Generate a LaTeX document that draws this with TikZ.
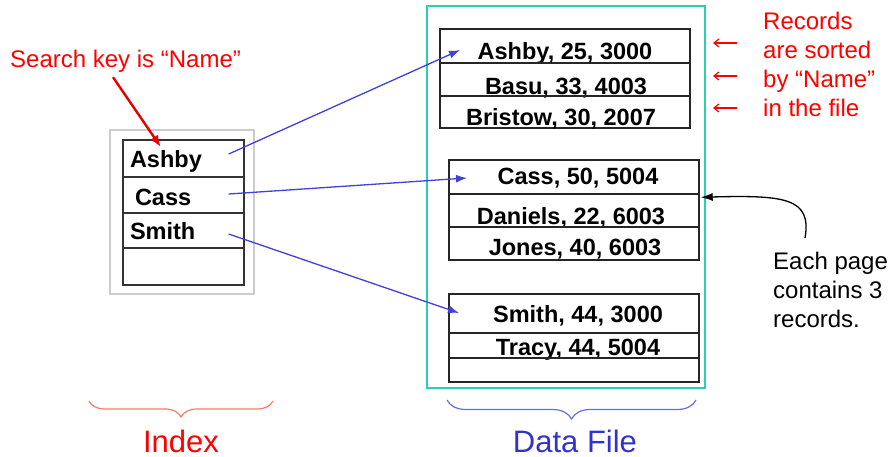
\documentclass[tikz,border=0pt]{standalone}
\usepackage{fontspec}
\setmainfont{Liberation Sans}
\usetikzlibrary{arrows.meta,calc,decorations.pathreplacing}
\definecolor{keyred}{RGB}{255,0,0}
\definecolor{ptrblue}{RGB}{64,64,221}
\definecolor{fileteal}{RGB}{40,208,176}
\definecolor{bracered}{RGB}{255,120,100}
\definecolor{braceblue}{RGB}{100,110,225}
\definecolor{dflabel}{RGB}{50,50,205}

\begin{document}
\begin{tikzpicture}[>=Stealth,x=1pt,y=-1pt,
 cell/.style={draw=black!80,line width=1.4pt,inner sep=0pt,inner xsep=7pt,text width=107pt,align=left,text height=19pt,text depth=0pt,font=\bfseries\fontsize{23.5}{28}\selectfont},
 rec/.style={draw=black!85,line width=1.4pt,inner sep=0pt,minimum width=250pt,text height=25pt,text depth=0pt,font=\bfseries\fontsize{23.5}{28}\selectfont},
 frame/.style={draw,line width=1.4pt,inner sep=0pt},
 note/.style={inner sep=0pt,align=left,font=\fontsize{24}{29}\selectfont},
 ptr/.style={->,draw=ptrblue,line width=1.3pt,>={Latex[length=11pt,width=8pt]}},
 keyarrow/.style={->,draw=keyred!90!black,line width=2.4pt,>={Latex[length=12pt,width=9pt]}},
 sortarrow/.style={->,draw=keyred,line width=1.2pt,>={Straight Barb[length=5pt,width=8pt]}},
 brace/.style={decorate,decoration={brace,mirror,amplitude=16pt},line width=1.2pt}]
\useasboundingbox (0,0) rectangle (891,457);
% index
\node[frame,draw=black!20,minimum width=144pt,minimum height=164pt] (idx) at (182,212) {};
\node[cell,minimum height=37pt] (ashby) at (183.5,158.5) {Ashby};
\node[cell,minimum height=36pt,text height=20pt] (cass) at (183.5,195) {\hspace*{5pt}Cass};
\node[cell,minimum height=35pt] (smith) at (183.5,230.5) {Smith};
\node[cell,minimum height=37pt] (blank) at (183.5,266.5) {};
% data file
\node[frame,draw=fileteal,minimum width=278pt,minimum height=382pt] (file) at (566,197) {};
\node[rec,minimum height=34pt,text height=27pt] (r1) at (565,46) {Ashby, 25, 3000};
\node[rec,minimum height=33pt,text height=30pt] (r2) at (565,79.5) {\hspace*{2pt}Basu, 33, 4003};
\node[rec,minimum height=32pt,text height=27pt] (r3) at (565,112) {Bristow, 30, 2007\hspace*{8pt}};
\node[rec,minimum height=34pt,text height=15pt] (r4) at (574,177) {\hspace*{8pt}Cass, 50, 5004};
\node[rec,minimum height=33pt,text height=28pt] (r5) at (574,210.5) {Daniels, 22, 6003\hspace*{6pt}};
\node[rec,minimum height=33pt,text height=24pt] (r6) at (574,243.5) {\hspace*{2pt}Jones, 40, 6003};
\node[rec,minimum height=39pt,text height=17pt] (r7) at (574,313.5) {\hspace*{8pt}Smith, 44, 3000};
\node[rec,minimum height=25pt,text height=20pt] (r8) at (574,345.5) {\hspace*{8pt}Tracy, 44, 5004};
\node[rec,minimum height=24pt,text height=20pt] (r9) at (574,370) {};
% notes
\node[note,text=keyred,anchor=base west] (key) at (10,68) {Search key is “Name”};
\node[note,text=keyred,anchor=north west] (sorted) at (763,12) {Records\\are sorted\\by “Name”\\in the file};
\node[note,anchor=north west] (each) at (773,252) {Each page\\contains 3\\records.};
\node[font=\fontsize{31}{36}\selectfont,text=keyred,anchor=base] (idxlbl) at (181,452) {Index};
\node[font=\fontsize{31}{36}\selectfont,text=dflabel,anchor=base] (filelbl) at (575,452) {Data File};
% pointers
\coordinate (t1) at (460,50);
\coordinate (t2) at (467,178);
\coordinate (t3) at (459,313);
\draw[ptr] ([xshift=-16pt,yshift=4.5pt]ashby.east) -- (t1);
\draw[ptr] ([xshift=-16pt,yshift=1pt]cass.east) -- (t2);
\draw[ptr] ([xshift=-16pt,yshift=-3.5pt]smith.east) -- (t3);
\draw[keyarrow] ([xshift=103pt,yshift=-4pt]key.south west) -- ([xshift=-22.5pt,yshift=-8pt]ashby.north);
\foreach \yy [count=\i] in {43,76,108} {
  \coordinate (s\i) at (737,\yy);
  \draw[sortarrow] (s\i) -- ++(-24,0);
}
\coordinate (eachtail) at (805,238);
\draw[->,line width=1.3pt,>={Latex[length=12pt,width=8pt]}] (eachtail) .. controls (812,198) and (785,195) .. ([xshift=1pt,yshift=-4pt]r5.north east);
% braces
\draw[brace,draw=bracered] (89,401) -- (273,401);
\draw[brace,draw=braceblue,decoration={amplitude=19pt}] (447,400) -- (696,400);
\end{tikzpicture}
\end{document}
